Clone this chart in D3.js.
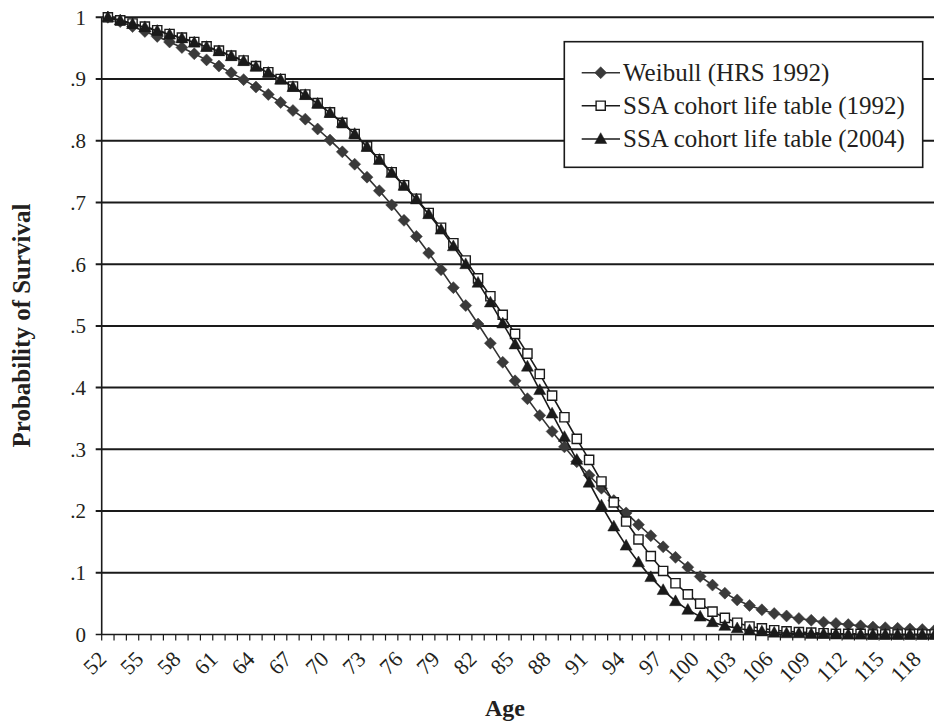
<!DOCTYPE html>
<html>
<head>
<meta charset="utf-8">
<script src="https://cdn.jsdelivr.net/npm/d3@7"></script>
<style>
  html, body { margin: 0; padding: 0; background: #fff; }
  svg { display: block; }
</style>
</head>
<body>
<svg id="chart" width="934" height="725" font-family="'Liberation Serif', 'DejaVu Serif', serif"></svg>
<script>
// ---------- DATA ----------
const ages = [52,53,54,55,56,57,58,59,60,61,62,63,64,65,66,67,68,69,70,71,72,73,74,75,76,77,78,79,80,81,82,83,84,85,86,87,88,89,90,91,92,93,94,95,96,97,98,99,100,101,102,103,104,105,106,107,108,109,110,111,112,113,114,115,116,117,118,119];

const weibullHRS1992 = [1.000,.993,.985,.977,.969,.960,.951,.941,.931,.921,.910,.899,.887,.875,.862,.849,.835,.819,.801,.782,.762,.741,.719,.696,.671,.645,.618,.591,.562,.533,.503,.472,.441,.411,.382,.355,.329,.304,.280,.258,.237,.217,.197,.178,.160,.142,.125,.109,.094,.080,.067,.056,.047,.040,.034,.030,.026,.023,.020,.018,.016,.014,.012,.011,.010,.009,.008,.007];

const ssaCohort1992 = [1.000,.995,.990,.985,.979,.973,.967,.960,.953,.946,.938,.930,.921,.911,.900,.888,.875,.861,.846,.829,.811,.791,.770,.749,.728,.706,.683,.659,.634,.606,.577,.548,.518,.487,.455,.422,.387,.352,.317,.283,.248,.214,.183,.154,.127,.103,.083,.065,.050,.037,.027,.019,.013,.010,.007,.005,.004,.003,.002,.001,.001,.001,.000,.000,.000,.000,.000,.000];

const ssaCohort2004 = [1.000,.995,.989,.984,.978,.972,.966,.959,.952,.945,.937,.929,.920,.910,.899,.887,.874,.860,.845,.829,.811,.790,.769,.748,.727,.705,.681,.656,.629,.600,.570,.538,.504,.470,.434,.396,.358,.320,.283,.246,.209,.175,.144,.117,.093,.072,.054,.040,.029,.020,.014,.010,.007,.005,.003,.002,.002,.001,.001,.001,.000,.000,.000,.000,.000,.000,.000,.000];

const xTickLabels = [52,55,58,61,64,67,70,73,76,79,82,85,88,91,94,97,100,103,106,109,112,115,118];
const yTickValues = [0,.1,.2,.3,.4,.5,.6,.7,.8,.9,1];
const yTickLabels = ["0",".1",".2",".3",".4",".5",".6",".7",".8",".9","1"];

const seriesNames = ["Weibull (HRS 1992)", "SSA cohort life table (1992)", "SSA cohort life table (2004)"];
const xTitle = "Age";
const yTitle = "Probability of Survival";

// ---------- LAYOUT ----------
const FONT = "'Liberation Serif', 'DejaVu Serif', serif";
const TXT = "#231f20";
const svg = d3.select("#chart");
const plotLeft = 101.7, plotRight = 940.8, plotTop = 17.3, plotBottom = 634.5;

const x = d3.scaleBand().domain(ages).range([plotLeft, plotRight]).padding(0);
const cx = a => x(a) + x.bandwidth() / 2;
const y = d3.scaleLinear().domain([0, 1]).range([plotBottom, plotTop]);

// gridlines
svg.append("g").selectAll("line")
  .data(yTickValues.filter(v => v > 0))
  .join("line")
  .attr("x1", plotLeft - 6).attr("x2", 934)
  .attr("y1", d => y(d)).attr("y2", d => y(d))
  .attr("stroke", "#1a1a1a").attr("stroke-width", 2);

// y axis line and zero line
svg.append("line").attr("x1", plotLeft).attr("x2", plotLeft)
  .attr("y1", plotTop).attr("y2", plotBottom)
  .attr("stroke", "#1a1a1a").attr("stroke-width", 1.6);
svg.append("line").attr("x1", plotLeft - 6).attr("x2", 934)
  .attr("y1", plotBottom).attr("y2", plotBottom)
  .attr("stroke", "#1a1a1a").attr("stroke-width", 1.6);

// x ticks at category boundaries
const boundaries = ages.map(a => x(a)).concat([plotRight]);
svg.append("g").selectAll("line")
  .data(boundaries).join("line")
  .attr("x1", d => d).attr("x2", d => d)
  .attr("y1", plotBottom).attr("y2", plotBottom + 6)
  .attr("stroke", "#1a1a1a").attr("stroke-width", 1.2);

// y tick labels
svg.append("g").selectAll("text")
  .data(yTickValues).join("text")
  .attr("x", 86).attr("y", d => y(d))
  .attr("dy", "0.35em")
  .attr("text-anchor", "end")
  .attr("font-family", FONT).attr("fill", TXT)
  .attr("font-size", 21)
  .text((d, i) => yTickLabels[i]);

// x tick labels
svg.append("g").selectAll("text")
  .data(xTickLabels).join("text")
  .attr("transform", d => `translate(${cx(d)},${plotBottom + 26}) rotate(-45)`)
  .attr("text-anchor", "end")
  .attr("font-family", FONT).attr("fill", TXT)
  .attr("font-size", 22)
  .text(d => d);

// axis titles
svg.append("text")
  .attr("transform", `translate(30,325.5) rotate(-90)`)
  .attr("text-anchor", "middle")
  .attr("font-family", FONT).attr("fill", TXT)
  .attr("font-size", 25).attr("font-weight", "bold")
  .text(yTitle);
svg.append("text")
  .attr("x", 505).attr("y", 716)
  .attr("text-anchor", "middle")
  .attr("font-family", FONT).attr("fill", TXT)
  .attr("font-size", 24).attr("font-weight", "bold")
  .text(xTitle);

// ---------- SERIES ----------
const line = d3.line().x((d, i) => cx(ages[i])).y(d => y(d));
const diamondPath = r => `M0,${-r}L${r},0L0,${r}L${-r},0Z`;
const squarePath = s => `M${-s},${-s}H${s}V${s}H${-s}Z`;
const trianglePath = r => `M0,${-r * 1.05}L${r * 1.0},${r * 0.75}L${-r * 1.0},${r * 0.75}Z`;

const series = [
  { name: seriesNames[0], values: weibullHRS1992, lineColor: "#333333", path: diamondPath(6), fill: "#3a3a3a", stroke: "#3a3a3a", sw: 0.5 },
  { name: seriesNames[1], values: ssaCohort1992, lineColor: "#1a1a1a", path: squarePath(4.6), fill: "#ffffff", stroke: "#1a1a1a", sw: 1.4 },
  { name: seriesNames[2], values: ssaCohort2004, lineColor: "#1a1a1a", path: trianglePath(6), fill: "#1a1a1a", stroke: "#1a1a1a", sw: 0.5 }
];

const plotG = svg.append("g");
series.forEach(s => {
  const g = plotG.append("g");
  g.append("path").datum(s.values)
    .attr("d", line).attr("fill", "none")
    .attr("stroke", s.lineColor).attr("stroke-width", 1.6);
  g.selectAll("path.m").data(s.values).join("path")
    .attr("class", "m")
    .attr("transform", (d, i) => `translate(${cx(ages[i])},${y(d)})`)
    .attr("d", s.path)
    .attr("fill", s.fill).attr("stroke", s.stroke).attr("stroke-width", s.sw);
});

// ---------- LEGEND ----------
const lg = svg.append("g");
lg.append("rect").attr("x", 564.3).attr("y", 41.7)
  .attr("width", 358.4).attr("height", 125.6)
  .attr("fill", "#fff").attr("stroke", "#1a1a1a").attr("stroke-width", 1.6);
const legendRowsY = [72.7, 105.7, 139];
series.forEach((s, i) => {
  const ly = legendRowsY[i];
  lg.append("line").attr("x1", 581.7).attr("x2", 620)
    .attr("y1", ly).attr("y2", ly)
    .attr("stroke", s.lineColor).attr("stroke-width", 1.6);
  lg.append("path").attr("transform", `translate(600.7,${ly})`)
    .attr("d", s.path).attr("fill", s.fill).attr("stroke", s.stroke).attr("stroke-width", s.sw);
  lg.append("text").attr("x", 623).attr("y", ly).attr("dy", "0.33em")
    .attr("font-family", FONT).attr("fill", TXT)
    .attr("font-size", 25).text(s.name);
});
</script>
</body>
</html>
